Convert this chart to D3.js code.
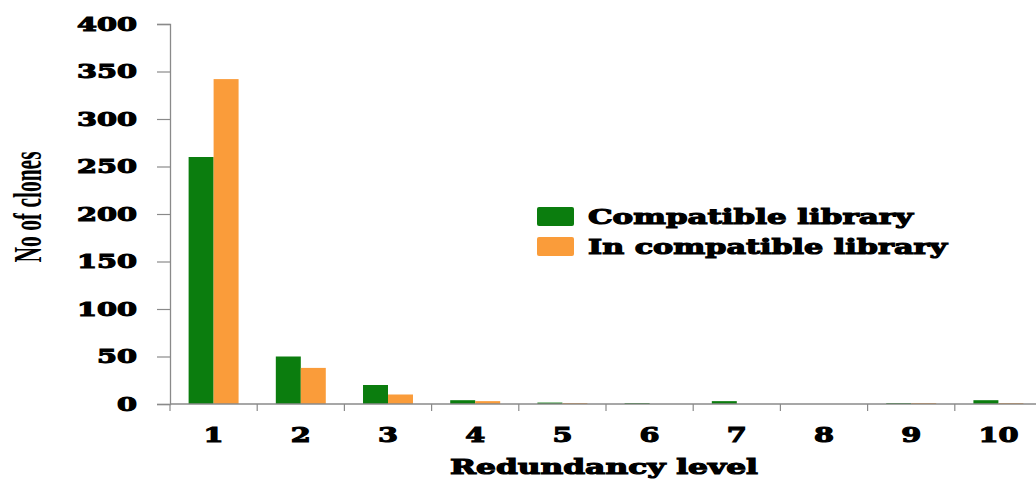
<!DOCTYPE html>
<html>
<head>
<meta charset="utf-8">
<script src="https://cdn.jsdelivr.net/npm/d3@7"></script>
<style>
  html, body { margin: 0; padding: 0; background: #fff; }
  svg { display: block; }
</style>
</head>
<body>
<svg id="chart" width="1036" height="480"></svg>
<script>
const categories = ["1","2","3","4","5","6","7","8","9","10"];
const seriesNames = ["Compatible library", "In compatible library"];
const compatible   = [260, 50, 20, 4, 1.5, 1, 3, 0, 1, 4];
const incompatible = [342, 38, 10, 3, 1, 0, 0, 0, 1, 1];
const yTicks = [0, 50, 100, 150, 200, 250, 300, 350, 400];
const colors = ["#0b7d0e", "#fa9c3a"];

(function () {
const svg = d3.select("#chart");
const mLeft = 170, mRight = 1042, mTop = 24, mBottom = 404;
const serif = "'DejaVu Serif', 'Liberation Serif', serif";
const heavy = 1.1;

const x0 = d3.scaleBand().domain(categories).range([mLeft, mRight]).paddingInner(0).paddingOuter(0);
const x1 = d3.scaleBand().domain(seriesNames).range([0, x0.bandwidth()]).paddingInner(0).paddingOuter(0.745);
const y = d3.scaleLinear().domain([0, 400]).range([mBottom, mTop]);

const data = categories.map((c, i) => ({cat: c, vals: [compatible[i], incompatible[i]]}));

// bars
const groups = svg.append("g").selectAll("g").data(data).join("g")
  .attr("transform", d => `translate(${x0(d.cat)},0)`);
groups.selectAll("rect").data(d => d.vals.map((v, j) => ({v, j})))
  .join("rect")
  .attr("x", d => x1(seriesNames[d.j]))
  .attr("width", x1.bandwidth())
  .attr("y", d => y(d.v))
  .attr("height", d => y(0) - y(d.v))
  .attr("fill", d => colors[d.j]);

// y axis
const yAxis = svg.append("g").attr("transform", `translate(${mLeft},0)`)
  .call(d3.axisLeft(y).tickValues(yTicks).tickSize(13).tickPadding(20).tickFormat(d3.format("d")));
yAxis.select(".domain").attr("stroke", "#8a8a8a").attr("stroke-width", 1.3);
yAxis.selectAll(".tick line").attr("stroke", "#8a8a8a").attr("stroke-width", 1.2);
yAxis.selectAll(".tick text")
  .attr("font-family", serif).attr("font-weight", "900").attr("font-size", 19)
  .attr("fill", "#000").attr("stroke", "#000").attr("stroke-width", heavy)
  .attr("textLength", d => String(d).length * 20)
  .attr("lengthAdjust", "spacingAndGlyphs");

// x axis line
svg.append("line").attr("x1", mLeft).attr("x2", 1036).attr("y1", y(0)).attr("y2", y(0))
  .attr("stroke", "#8a8a8a").attr("stroke-width", 1.3);
// boundary ticks
const bounds = categories.map(c => x0(c)).concat([x0(categories[categories.length-1]) + x0.bandwidth()]);
svg.append("g").selectAll("line").data(bounds).join("line")
  .attr("x1", d => d).attr("x2", d => d)
  .attr("y1", y(0)).attr("y2", y(0) + 7)
  .attr("stroke", "#8a8a8a").attr("stroke-width", 1.2);
// x labels
const xAxis = svg.append("g").attr("transform", `translate(0,${y(0)})`)
  .call(d3.axisBottom(x0).tickSize(0).tickPadding(38));
xAxis.select(".domain").remove();
xAxis.selectAll(".tick text")
  .attr("font-family", serif).attr("font-weight", "900").attr("font-size", 20)
  .attr("fill", "#000").attr("stroke", "#000").attr("stroke-width", heavy)
  .attr("dy", 0).attr("dominant-baseline", "alphabetic")
  .attr("textLength", d => d.length * 20)
  .attr("lengthAdjust", "spacingAndGlyphs");

// axis titles
svg.append("text").attr("x", 604).attr("y", 474).attr("text-anchor", "middle")
  .attr("font-family", serif).attr("font-weight", "900").attr("font-size", 20)
  .attr("stroke", "#000").attr("stroke-width", heavy)
  .attr("textLength", 308).attr("lengthAdjust", "spacingAndGlyphs")
  .text("Redundancy level");

svg.append("text").attr("transform", "translate(41,207) rotate(-90)")
  .attr("text-anchor", "middle")
  .attr("font-family", "'Liberation Serif', serif").attr("font-weight", "bold").attr("font-size", 39)
  .attr("textLength", 111).attr("lengthAdjust", "spacingAndGlyphs")
  .text("No of clones");

// legend
const legendY = [207, 237];
const legend = svg.append("g").selectAll("g").data(seriesNames).join("g")
  .attr("transform", (d, i) => `translate(537,${legendY[i]})`);
legend.append("rect").attr("width", 37).attr("height", 19).attr("rx", 2)
  .attr("fill", (d, i) => colors[i]);
legend.append("text").attr("x", 51).attr("y", 17)
  .attr("font-family", serif).attr("font-weight", "900").attr("font-size", 20)
  .attr("stroke", "#000").attr("stroke-width", heavy)
  .attr("textLength", (d, i) => [325, 359][i]).attr("lengthAdjust", "spacingAndGlyphs")
  .text(d => d);
})();
</script>
</body>
</html>
